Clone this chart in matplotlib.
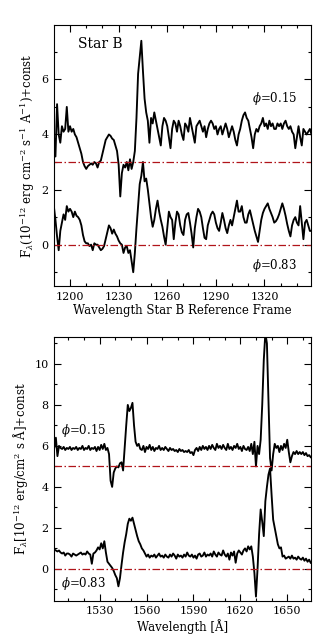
import numpy as np
import matplotlib.pyplot as plt
from matplotlib.ticker import MultipleLocator

# ---- data ----
# top panel: N V region, 1 A steps starting at 1190 A
wl_top_start = 1190
flux_top_015 = [
    4.0, 3.2, 5.1, 4.0, 3.7, 4.3, 4.1, 4.2, 5.0, 4.1,
    4.3, 4.1, 4.2, 4.0, 3.9, 3.7, 3.5, 3.3, 3.0, 2.85,
    2.75, 2.85, 2.9, 2.95, 2.9, 3.0, 2.95, 2.8, 3.0, 3.05,
    3.3, 3.55, 3.8, 3.9, 4.0, 3.95, 3.85, 3.8, 3.6, 3.4,
    2.9, 1.75, 2.6, 2.9, 2.8, 3.0, 2.7, 3.1, 2.75, 3.0,
    3.4, 4.6, 6.2, 6.8, 7.4, 6.3, 5.3, 4.8, 4.5, 3.7,
    4.6, 4.4, 4.8, 4.5, 4.2, 3.9, 3.6, 4.3, 4.6, 4.5,
    4.3, 3.9, 3.5, 4.2, 4.5, 4.4, 4.1, 4.5, 4.3, 4.0,
    3.8, 4.4, 4.3, 4.1, 4.6, 4.3, 4.0, 3.7, 4.3, 4.4,
    4.5, 4.3, 4.1, 4.3, 3.9, 4.2, 4.4, 4.5, 4.4, 4.2,
    4.3, 4.0, 4.2, 4.3, 4.0, 4.2, 4.4, 4.2, 3.9, 4.1,
    4.3, 4.1, 3.8, 3.6, 4.0, 4.2, 4.5, 4.7, 4.8, 4.6,
    4.5, 4.2, 3.9, 3.5, 4.0, 4.2, 4.1, 4.3, 4.4, 4.6,
    4.3, 4.4, 4.2, 4.5, 4.3, 4.4, 4.2, 4.2, 4.4, 4.3,
    4.4, 4.2, 4.4, 4.5, 4.3, 4.2, 4.3, 4.1, 4.0, 3.5,
    3.9, 4.3, 3.9, 3.6, 4.2, 4.1, 4.0, 4.1, 4.2, 4.0,
]
flux_top_083 = [
    1.4, 0.9, 0.3, -0.2, 0.5, 0.8, 1.1, 0.9, 1.4, 1.2,
    1.3, 1.2, 1.0, 1.2, 1.05, 1.0, 0.9, 0.7, 0.35, 0.12,
    0.05, 0.05, -0.05, 0.0, -0.2, 0.05, 0.0, 0.0, -0.1, -0.2,
    -0.15, -0.05, 0.2, 0.45, 0.7, 0.6, 0.4, 0.55, 0.4, 0.3,
    0.15, 0.05, 0.0, -0.3, -0.1, -0.05, -0.3, -0.2, -0.6, -1.0,
    -0.3, 0.6, 1.4, 2.2, 2.5, 3.0, 2.3, 2.4, 2.0, 1.5,
    1.0, 0.65, 0.9, 1.3, 1.6, 1.2, 0.9, 0.65, 0.3, 0.0,
    0.6, 1.2, 1.0, 0.9, 0.2, 0.8, 1.2, 1.1, 0.7, 0.45,
    0.35, 0.9, 1.1, 1.15, 0.8, 0.4, -0.1, 0.6, 1.0, 1.3,
    1.2, 1.0, 0.6, 0.25, 0.2, 0.7, 0.9, 1.1, 1.2, 1.1,
    0.8, 0.6, 0.5, 0.8, 1.15, 0.9, 0.6, 0.42, 0.7, 0.9,
    0.7, 1.0, 1.3, 1.6, 1.2, 1.2, 1.4, 1.0, 0.8, 0.8,
    1.1, 1.25, 1.0, 0.75, 0.5, 0.3, 0.1, 0.5, 0.9, 1.15,
    1.3, 1.4, 1.5, 1.3, 1.15, 1.0, 0.8, 0.85, 0.95, 1.1,
    1.3, 1.5, 1.3, 1.05, 0.75, 0.5, 0.3, 0.7, 0.9, 1.0,
    0.8, 0.7, 1.4, 0.8, 0.2, 0.8, 0.9, 0.7, 0.5, 0.5,
]

# bottom panel: C IV / He II region, 1 A steps starting at 1500 A
wl_bot_start = 1500
flux_bot_015 = [
    6.0, 5.9, 6.4, 5.5, 6.0, 5.9, 5.85, 5.95, 5.8, 5.9,
    5.85, 5.95, 5.8, 5.9, 5.85, 5.95, 5.8, 5.9, 5.85, 6.0,
    5.8, 5.9, 5.85, 6.0, 5.8, 5.9, 5.85, 5.95, 5.75, 5.95,
    5.8, 6.05, 5.85, 6.1, 5.8, 5.9, 5.6, 4.3, 4.0, 4.7,
    4.9, 5.0, 4.95, 5.15, 5.2, 4.8, 5.9, 7.0, 8.0, 7.7,
    7.85, 8.1, 7.0, 6.2, 6.0, 6.1, 5.85, 5.8, 6.0, 5.7,
    5.95, 5.85, 6.05, 5.8, 5.95, 5.75, 5.9, 5.85, 6.0, 5.8,
    5.9, 5.8, 5.95, 5.85, 5.75, 5.9, 5.8, 5.85, 5.75, 5.8,
    5.7, 5.85, 5.75, 5.8, 5.7, 5.75, 5.7, 5.8, 5.65, 5.7,
    5.55, 5.8, 5.9, 5.75, 5.95, 5.8, 6.0, 5.85, 5.95, 5.8,
    6.0, 5.85, 6.05, 5.9, 5.8, 6.1, 5.9, 6.0, 5.85, 6.05,
    5.9, 5.8, 6.1, 5.85, 5.95, 5.8, 6.0, 5.9, 6.1, 5.85,
    5.95, 5.75, 6.0, 5.85, 5.8, 5.95, 5.75, 6.1, 5.6, 6.2,
    5.0, 6.0, 5.6, 6.3, 8.0, 10.2, 11.5, 11.0, 8.2, 5.4,
    4.8, 5.6, 6.1, 5.9, 6.0, 5.7, 6.0, 5.8, 6.1, 5.9,
    6.3, 5.7, 5.2, 5.5, 5.7, 5.6, 5.75, 5.6, 5.7, 5.6,
    5.7, 5.55, 5.65, 5.5, 5.55, 5.45,
]
flux_bot_083 = [
    1.0, 0.95, 0.9, 0.85, 0.9, 0.8, 0.75, 0.8, 0.65, 0.75,
    0.75, 0.7, 0.6, 0.75, 0.7, 0.65, 0.7, 0.75, 0.8, 0.7,
    0.75, 0.7, 0.85, 0.75, 0.7, 0.25, 0.75, 0.8, 0.9, 1.05,
    0.95, 1.25, 1.0, 1.35, 0.8, 0.35, 0.25, 0.15, 0.05, -0.1,
    -0.3, -0.45, -0.85, -0.45, 0.2, 0.8, 1.3, 1.7, 2.2, 2.45,
    2.35, 2.5, 2.2, 1.9, 1.6, 1.35, 1.2, 1.0, 0.9, 0.75,
    0.6, 0.7, 0.55, 0.65, 0.6, 0.7, 0.55, 0.65, 0.75, 0.6,
    0.65, 0.55, 0.7, 0.6, 0.55, 0.7, 0.6, 0.75, 0.65, 0.5,
    0.7, 0.6, 0.65, 0.55, 0.7, 0.6, 0.8, 0.65, 0.6, 0.7,
    0.55, 0.65, 0.5, 0.7, 0.75, 0.6, 0.65, 0.8, 0.6, 0.7,
    0.65, 0.75, 0.6, 0.85, 0.7, 0.6, 0.8, 0.7, 0.65, 0.9,
    0.7, 0.6, 0.75, 0.45, 0.8, 0.65, 0.85, 0.3, 0.75, 0.9,
    0.8, 0.7, 0.9, 1.0, 0.85, 1.1, 0.95, 1.1, 0.6, -0.2,
    -1.35, 0.0, 1.7, 2.9, 2.3, 1.6, 3.3, 4.0, 4.6, 4.9,
    3.6, 2.4, 2.0, 1.6, 1.2, 1.0, 1.05, 0.6, 0.65, 0.5,
    0.55, 0.6, 0.5, 0.65, 0.5, 0.55, 0.45, 0.6, 0.5, 0.45,
    0.55, 0.4, 0.5, 0.35, 0.45, 0.3,
]

top_refs = [3, 0]
bot_refs = [5, 0]

wl_top = wl_top_start + np.arange(len(flux_top_015))
wl_bot = wl_bot_start + np.arange(len(flux_bot_015))

plt.rcParams['font.family'] = 'DejaVu Serif'
plt.rcParams['mathtext.fontset'] = 'dejavuserif'

red = '#b0141a'
dashdot = (0, (6, 2, 1.2, 2))

fig = plt.figure(figsize=(3.34, 6.38), dpi=100)
ax1 = fig.add_axes([0.1626, 0.5517, 0.7676, 0.409])
ax2 = fig.add_axes([0.1626, 0.0585, 0.7676, 0.4129])

# top panel
ax1.plot(wl_top, flux_top_015, color='k', lw=1.35)
ax1.plot(wl_top, flux_top_083, color='k', lw=1.35)
for r in top_refs:
    ax1.axhline(r, color=red, ls=dashdot, lw=0.9)
ax1.set_xlim(1190.3, 1348.5)
ax1.set_ylim(-1.5, 7.97)
ax1.text(1205, 7.3, 'Star B', fontsize=10, va='center')
ax1.text(1312, 5.3, r'$\phi$=0.15', fontsize=8.5, va='center')
ax1.text(1312, -0.75, r'$\phi$=0.83', fontsize=8.5, va='center')
ax1.set_xlabel('Wavelength Star B Reference Frame', fontsize=8.5, labelpad=2)
ax1.set_ylabel(r'F$_\lambda$(10$^{-12}$ erg cm$^{-2}$ s$^{-1}$ A$^{-1}$)+const',
               fontsize=8.5, labelpad=3)

# bottom panel
ax2.plot(wl_bot, flux_bot_015, color='k', lw=1.35)
ax2.plot(wl_bot, flux_bot_083, color='k', lw=1.35)
for r in bot_refs:
    ax2.axhline(r, color=red, ls=dashdot, lw=0.9)
ax2.set_xlim(1501, 1665)
ax2.set_ylim(-1.55, 11.3)
ax2.text(1505, 6.75, r'$\phi$=0.15', fontsize=8.5, va='center')
ax2.text(1505, -0.7, r'$\phi$=0.83', fontsize=8.5, va='center')
ax2.set_xlabel('Wavelength [Å]', fontsize=8.5, labelpad=2)
ax2.set_ylabel(r'F$_\lambda$[10$^{-12}$ erg/cm$^2$ s Å]+const',
               fontsize=8.5, labelpad=3)

for ax in (ax1, ax2):
    ax.xaxis.set_major_locator(MultipleLocator(30))
    ax.xaxis.set_minor_locator(MultipleLocator(10))
    ax.yaxis.set_major_locator(MultipleLocator(2))
    ax.yaxis.set_minor_locator(MultipleLocator(1))
    ax.tick_params(which='both', direction='in', top=True, right=True,
                   width=0.8, labelsize=8)
    ax.tick_params(which='major', length=5, pad=4)
    ax.tick_params(which='minor', length=2.5)
    for s in ax.spines.values():
        s.set_linewidth(0.8)

fig.savefig('out.png', dpi=100)
